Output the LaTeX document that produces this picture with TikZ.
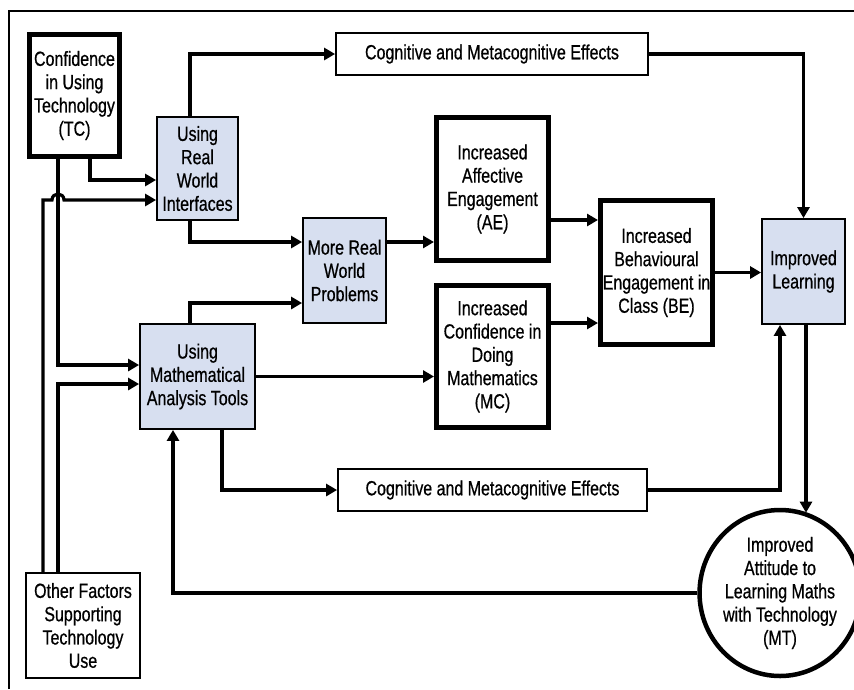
\documentclass[tikz,border=0pt]{standalone}
\usepackage{fontspec}
\setmainfont{Liberation Sans}[FakeStretch=0.78,FakeBold=0.6]
\usetikzlibrary{arrows.meta,shapes.geometric}
\definecolor{boxblue}{RGB}{215,223,240}
\begin{document}
\begin{tikzpicture}[x=1pt,y=-1pt,
  every node/.style={font=\fontsize{20.5}{23.3}\selectfont, align=center, inner sep=0pt},
  thinbox/.style={draw, line width=1.8pt, fill=white},
  bluebox/.style={thinbox, fill=boxblue},
  thickbox/.style={draw, line width=5pt, fill=white},
  oval/.style={draw, ellipse, line width=4.5pt, fill=white},
  conn/.style={line width=3.2pt},
  arr/.style={conn, -{Triangle[length=11pt,width=12pt]}},
  frameline/.style={line width=2pt}
]
\useasboundingbox (0,0) rectangle (854,689);
\draw[frameline] (9,689) -- (9,11) -- (854,11);

% nodes
\node[thickbox, minimum width=90, minimum height=122] (TC) at (74.5,95.5) {Confidence\\in Using\\Technology\\(TC)};
\node[bluebox, minimum width=81, minimum height=103] (RWI) at (197.5,168.5) {Using\\Real\\World\\Interfaces};
\node[thinbox, minimum width=312, minimum height=42] (CMEt) at (492,54) {Cognitive and Metacognitive Effects};
\node[thickbox, minimum width=112, minimum height=143] (AE) at (492.5,189) {Increased\\Affective\\Engagement\\(AE)};
\node[thickbox, minimum width=112, minimum height=142] (MC) at (492.5,356.5) {Increased\\Confidence in\\Doing\\Mathematics\\(MC)};
\node[bluebox, minimum width=83, minimum height=105] (MRWP) at (344.5,270.5) {More Real\\World\\Problems};
\node[thickbox, minimum width=112, minimum height=144] (BE) at (656.5,272.5) {Increased\\Behavioural\\Engagement in\\Class (BE)};
\node[bluebox, minimum width=83, minimum height=105] (IL) at (803.5,271.5) {Improved\\Learning};
\node[bluebox, minimum width=115, minimum height=105] (MAT) at (197.5,376.5) {Using\\Mathematical\\Analysis Tools};
\node[thinbox, minimum width=309, minimum height=42] (CMEb) at (492.5,490) {Cognitive and Metacognitive Effects};
\node[thinbox, minimum width=114, minimum height=105] (OF) at (83,625.5) {Other Factors\\Supporting\\Technology\\Use};
\node[oval, minimum width=130, minimum height=166] (MT) at (780,593) {Improved\\Attitude to\\Learning Maths\\with Technology\\(MT)};

% helper coordinates
\coordinate (tcR) at ([xshift=15.5pt]TC.south);
\coordinate (tcL) at ([xshift=-16.5pt]TC.south);
\coordinate (rwiIn1) at ([yshift=-11.5pt]RWI.west);
\coordinate (rwiIn2) at ([yshift=-31.5pt]RWI.west);
\coordinate (matIn1) at ([yshift=11.5pt]MAT.west);
\coordinate (matIn2) at ([yshift=-7.5pt]MAT.west);
\coordinate (ofL) at ([xshift=-40pt]OF.north);
\coordinate (ofR) at ([xshift=-25pt]OF.north);
\coordinate (hopL) at (52,200);
\coordinate (hopR) at (64,200);
\coordinate (rwiTop) at ([xshift=-7.5pt]RWI.north);
\coordinate (rwiBot) at ([xshift=-7.5pt]RWI.south);
\coordinate (matTop) at ([xshift=-7.5pt]MAT.north);
\coordinate (matBotR) at ([xshift=24.5pt]MAT.south);
\coordinate (matBotL) at ([xshift=-24.5pt]MAT.south);
\coordinate (mrwpIn1) at ([yshift=28.5pt]MRWP.west);
\coordinate (mrwpIn2) at ([yshift=-32.5pt]MRWP.west);
\coordinate (mrwpOut) at ([yshift=28.5pt]MRWP.east);
\coordinate (aeOut) at ([yshift=-31pt]AE.east);
\coordinate (mcOut) at ([yshift=33.5pt]MC.east);
\coordinate (ilBotL) at ([xshift=-23.5pt]IL.south);
\coordinate (ilBotR) at ([xshift=2.5pt]IL.south);

% connectors
\draw[arr] (tcR) |- (rwiIn1);
\draw[arr] (tcL) |- (matIn1);
\draw[arr] (ofL) |- (hopL) .. controls (52,192) and (64,192) .. (hopR) -- (rwiIn2);
\draw[arr] (ofR) |- (matIn2);
\draw[arr] (rwiTop) |- (CMEt.west);
\draw[arr] (CMEt.east) -| (IL.north);
\draw[arr] (rwiBot) |- (mrwpIn1);
\draw[arr] (matTop) |- (mrwpIn2);
\draw[arr] (mrwpOut) -- (mrwpOut -| AE.west);
\draw[arr] (MAT.east) -- (MAT.east -| MC.west);
\draw[arr] (aeOut) -- (aeOut -| BE.west);
\draw[arr] (mcOut) -- (mcOut -| BE.west);
\draw[arr] (BE.east) -- (BE.east -| IL.west);
\draw[arr] (matBotR) |- (CMEb.west);
\draw[arr] (CMEb.east) -| (ilBotL);
\draw[arr] (ilBotR) -- (ilBotR |- MT.71);
\draw[arr] (MT.west) -| (matBotL);
\end{tikzpicture}
\end{document}
